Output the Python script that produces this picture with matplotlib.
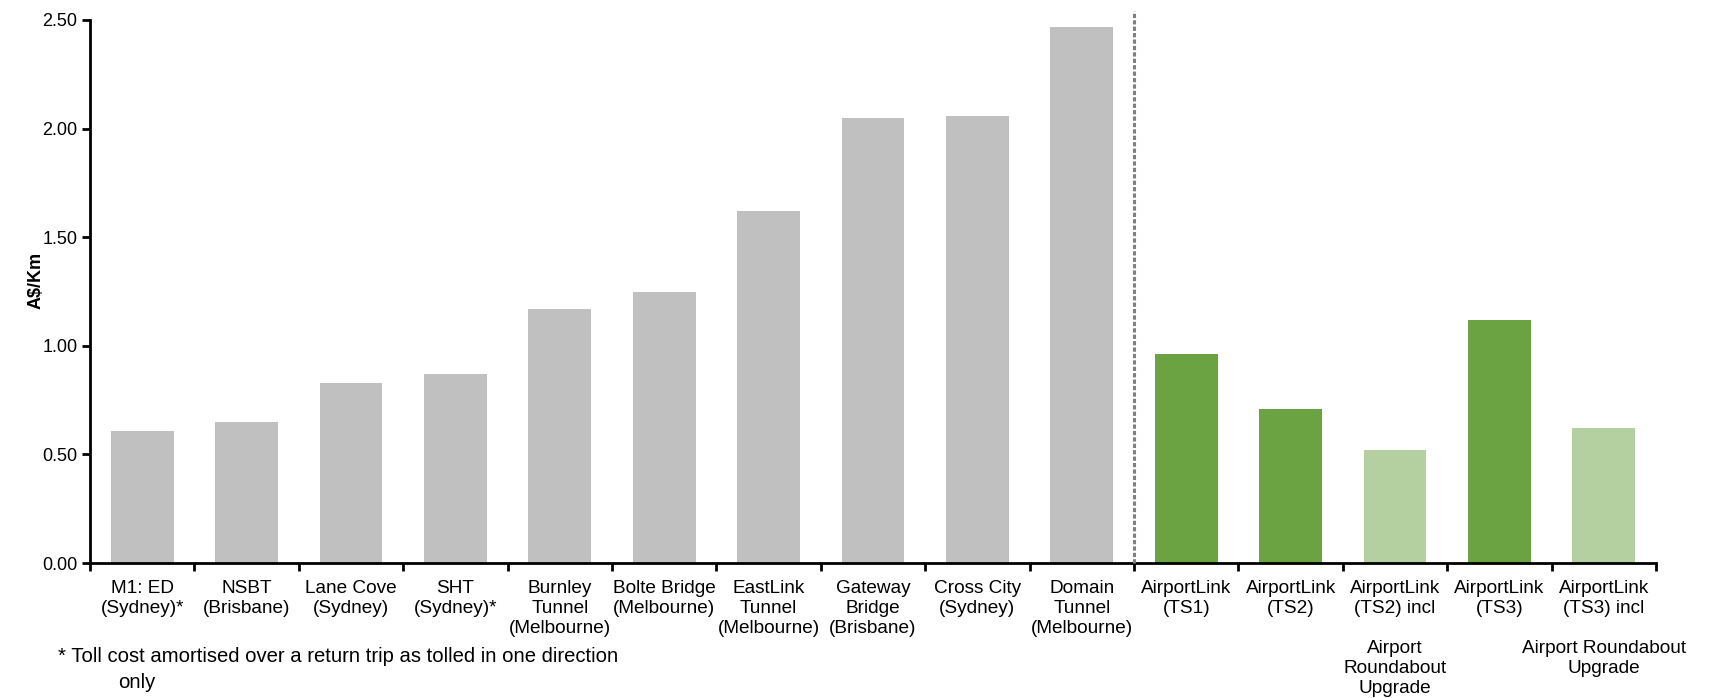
import matplotlib
matplotlib.use("Agg")
import matplotlib.pyplot as plt
import numpy as np

# Daten
labels = [
    "M1: ED\n(Sydney)*",
    "NSBT\n(Brisbane)",
    "Lane Cove\n(Sydney)",
    "SHT\n(Sydney)*",
    "Burnley\nTunnel\n(Melbourne)",
    "Bolte Bridge\n(Melbourne)",
    "EastLink\nTunnel\n(Melbourne)",
    "Gateway\nBridge\n(Brisbane)",
    "Cross City\n(Sydney)",
    "Domain\nTunnel\n(Melbourne)",
    "AirportLink\n(TS1)",
    "AirportLink\n(TS2)",
    "AirportLink\n(TS2) incl\n\nAirport\nRoundabout\nUpgrade",
    "AirportLink\n(TS3)",
    "AirportLink\n(TS3) incl\n\nAirport Roundabout\nUpgrade",
]
values = [0.61, 0.65, 0.83, 0.87, 1.17, 1.25, 1.62, 2.05, 2.06, 2.47,
          0.96, 0.71, 0.52, 1.12, 0.62]
groups = ["other"] * 10 + ["ts", "ts", "incl", "ts", "incl"]
yticks = [0.0, 0.5, 1.0, 1.5, 2.0, 2.5]
footnote = ["* Toll cost amortised over a return trip as tolled in one direction", "only"]

colors = {"other": "#c0c0c0", "ts": "#6ba342", "incl": "#b5d0a0"}

plt.rcParams['font.family'] = ['Liberation Sans', 'DejaVu Sans']

fig = plt.figure(figsize=(17.28, 6.98), dpi=100)
ax = fig.add_axes([90 / 1728, 1 - 563 / 698, (1656 - 90) / 1728, (563 - 20) / 698])

x = np.arange(len(values))
ax.bar(x, values, width=0.6, color=[colors[g] for g in groups], zorder=2)

# Trennlinie
ax.axvline(9.5, ymin=0, ymax=1.017, color="#808080", lw=2.2,
           linestyle=(0, (1.4, 0.7)), clip_on=False, zorder=3)

ax.set_xlim(-0.5, len(values) - 0.5)
ax.set_ylim(0, 2.5)
ax.set_yticks(yticks)
ax.set_yticklabels([f"{v:.2f}" for v in yticks], fontsize=13)
ax.set_ylabel("A$/Km", fontsize=13, fontweight="bold")
ax.yaxis.set_label_coords(-0.029, 0.52)

# Striche an den Kategoriegrenzen, Beschriftungen in der Mitte
ax.set_xticks(np.arange(-0.5, len(values), 1.0))
ax.set_xticklabels([])
ax.set_xticks(x, minor=True)
ax.set_xticklabels(labels, minor=True, fontsize=13.7, linespacing=1.24, va="top")
ax.tick_params(axis="x", which="minor", length=0, pad=12)
ax.tick_params(axis="x", which="major", length=6, width=2, direction="out")
ax.tick_params(axis="y", length=6, width=2, direction="out", pad=3)

for s in ["top", "right"]:
    ax.spines[s].set_visible(False)
for s in ["left", "bottom"]:
    ax.spines[s].set_linewidth(2)

fig.text(58 / 1728, 1 - 657 / 698, footnote[0], fontsize=14.6, va="center")
fig.text(118 / 1728, 1 - 682 / 698, footnote[1], fontsize=14.6, va="center")

fig.savefig("out.png", dpi=100)
